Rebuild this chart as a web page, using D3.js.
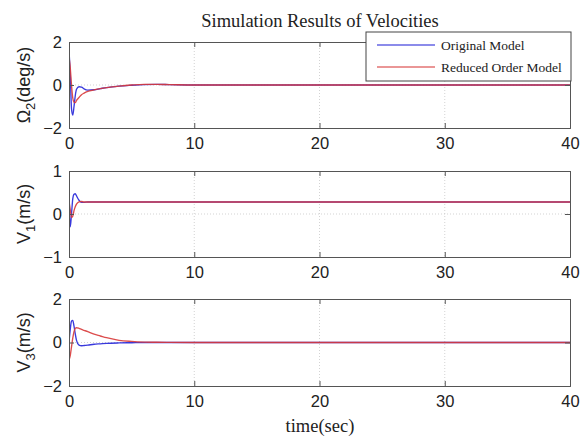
<!DOCTYPE html>
<html><head><meta charset="utf-8">
<script src="https://cdn.jsdelivr.net/npm/d3@7"></script>
<style>body{margin:0;background:#fff}svg{display:block}</style>
</head><body>
<script>
// ---- data ----
const time = [0,0.1,0.2,0.3,0.4,0.5,0.6,0.8,1.0,1.2,1.5,2,2.5,3,4,5,6,7,8,10,15,20,30,40];
const omegaOriginal = [1.6,0.5,-1.1,-1.4,-1.0,-0.5,-0.2,-0.08,-0.1,-0.18,-0.24,-0.22,-0.17,-0.12,-0.05,-0.01,0.02,0.03,0.02,0,0,0,0,0];
const omegaReduced  = [1.3,0.8,0.0,-0.6,-0.8,-0.82,-0.72,-0.58,-0.45,-0.38,-0.3,-0.23,-0.17,-0.12,-0.05,0.0,0.03,0.03,0.02,0,0,0,0,0];
const v1Original = [0.3,-0.3,0.0,0.35,0.46,0.47,0.42,0.32,0.27,0.27,0.28,0.28,0.28,0.28,0.28,0.28,0.28,0.28,0.28,0.28,0.28,0.28,0.28,0.28];
const v1Reduced  = [0.3,0.1,-0.08,-0.05,0.08,0.17,0.23,0.28,0.29,0.28,0.28,0.28,0.28,0.28,0.28,0.28,0.28,0.28,0.28,0.28,0.28,0.28,0.28,0.28];
const v3Original = [0,0.6,0.98,1.02,0.75,0.4,0.1,-0.12,-0.15,-0.14,-0.12,-0.08,-0.06,-0.04,-0.02,-0.01,0,0,0,0,0,0,0,0];
const v3Reduced  = [-0.8,-0.6,-0.2,0.2,0.5,0.65,0.68,0.65,0.6,0.56,0.5,0.38,0.3,0.22,0.1,0.05,0.02,0.01,0.005,0,0,0,0,0];
const xTicks = [0,10,20,30,40];
const seriesNames = ["Original Model","Reduced Order Model"];
const colors = ["#2424d8","#d83a3a"];
const panels = [
  {label:"Ω", sub:"2", unit:"(deg/s)", domain:[-2,2], ticks:[-2,0,2], series:[omegaOriginal, omegaReduced], top:42, bottom:128},
  {label:"V", sub:"1", unit:"(m/s)", domain:[-1,1], ticks:[-1,0,1], series:[v1Original, v1Reduced], top:171, bottom:257},
  {label:"V", sub:"3", unit:"(m/s)", domain:[-2,2], ticks:[-2,0,2], series:[v3Original, v3Reduced], top:299, bottom:386}
];

const W=582, H=436, L=69, R=570;
const svg = d3.select("body").append("svg").attr("width",W).attr("height",H);
const x = d3.scaleLinear().domain([0,40]).range([L,R]);
const sans = "'Liberation Sans', Arial, sans-serif";
const serif = "'Liberation Serif', 'Times New Roman', serif";

panels.forEach((p,i)=>{
  const y = d3.scaleLinear().domain(p.domain).range([p.bottom,p.top]);
  const g = svg.append("g");
  g.selectAll(".gx").data(xTicks.slice(1,-1)).join("line")
    .attr("x1",d=>x(d)).attr("x2",d=>x(d)).attr("y1",p.top).attr("y2",p.bottom)
    .attr("stroke","#c8c8c8").attr("stroke-width",0.8).attr("stroke-dasharray","1,2");
  g.selectAll(".gy").data(p.ticks.slice(1,-1)).join("line")
    .attr("x1",L).attr("x2",R).attr("y1",d=>y(d)).attr("y2",d=>y(d))
    .attr("stroke","#c8c8c8").attr("stroke-width",0.8).attr("stroke-dasharray","1,2");
  const cid="clip"+i;
  svg.append("clipPath").attr("id",cid).append("rect").attr("x",L).attr("y",p.top).attr("width",R-L).attr("height",p.bottom-p.top);
  const line = d3.line().x((d,k)=>x(time[k])).y(d=>y(d)).curve(d3.curveMonotoneX);
  p.series.forEach((s,k)=>{
    g.append("path").datum(s).attr("d",line).attr("fill","none")
      .attr("stroke",colors[k]).attr("stroke-width",1.35).attr("clip-path",`url(#${cid})`).attr("opacity",0.9);
  });
  const axB = d3.axisBottom(x).tickValues(xTicks).tickSize(-5).tickPadding(9).tickFormat(d3.format("d"));
  const axT = d3.axisTop(x).tickValues(xTicks).tickSize(-5).tickFormat("");
  const axL = d3.axisLeft(y).tickValues(p.ticks).tickSize(-5).tickPadding(7).tickFormat(d3.format("d"));
  const axR = d3.axisRight(y).tickValues(p.ticks).tickSize(-5).tickFormat("");
  const style = sel=>{sel.select(".domain").attr("stroke","#555");sel.selectAll(".tick line").attr("stroke","#555");
    sel.selectAll("text").attr("font-family",sans).attr("font-size",16.5).attr("fill","#222");};
  g.append("g").attr("transform",`translate(0,${p.bottom})`).call(axB).call(style);
  g.append("g").attr("transform",`translate(0,${p.top})`).call(axT).call(style);
  g.append("g").attr("transform",`translate(${L},0)`).call(axL).call(style);
  g.append("g").attr("transform",`translate(${R},0)`).call(axR).call(style);
  const yl = g.append("text").attr("transform",`translate(30,${(p.top+p.bottom)/2}) rotate(-90)`)
    .attr("text-anchor","middle").attr("font-family",sans).attr("font-size",18).attr("fill","#222");
  yl.append("tspan").text(p.label);
  yl.append("tspan").attr("font-size",13).attr("dy",5).text(p.sub);
  yl.append("tspan").attr("dy",-5).text(p.unit);
});

svg.append("text").attr("x",320).attr("y",27).attr("text-anchor","middle")
  .attr("font-family",serif).attr("font-size",18.5).attr("fill","#222").text("Simulation Results of Velocities");
svg.append("text").attr("x",320).attr("y",432).attr("text-anchor","middle")
  .attr("font-family",serif).attr("font-size",18.5).attr("fill","#222").text("time(sec)");

const lg = svg.append("g");
lg.append("rect").attr("x",366).attr("y",32).attr("width",205).attr("height",49)
  .attr("fill","#fff").attr("stroke","#444").attr("stroke-width",1);
seriesNames.forEach((n,k)=>{
  const yy = 45 + k*22;
  lg.append("line").attr("x1",377).attr("x2",435).attr("y1",yy).attr("y2",yy)
    .attr("stroke",colors[k]).attr("stroke-width",1.3).attr("opacity",0.7);
  lg.append("text").attr("x",441).attr("y",yy+4.5).attr("font-family",serif).attr("font-size",13.5)
    .attr("fill","#222").text(n);
});
</script>
</body></html>
